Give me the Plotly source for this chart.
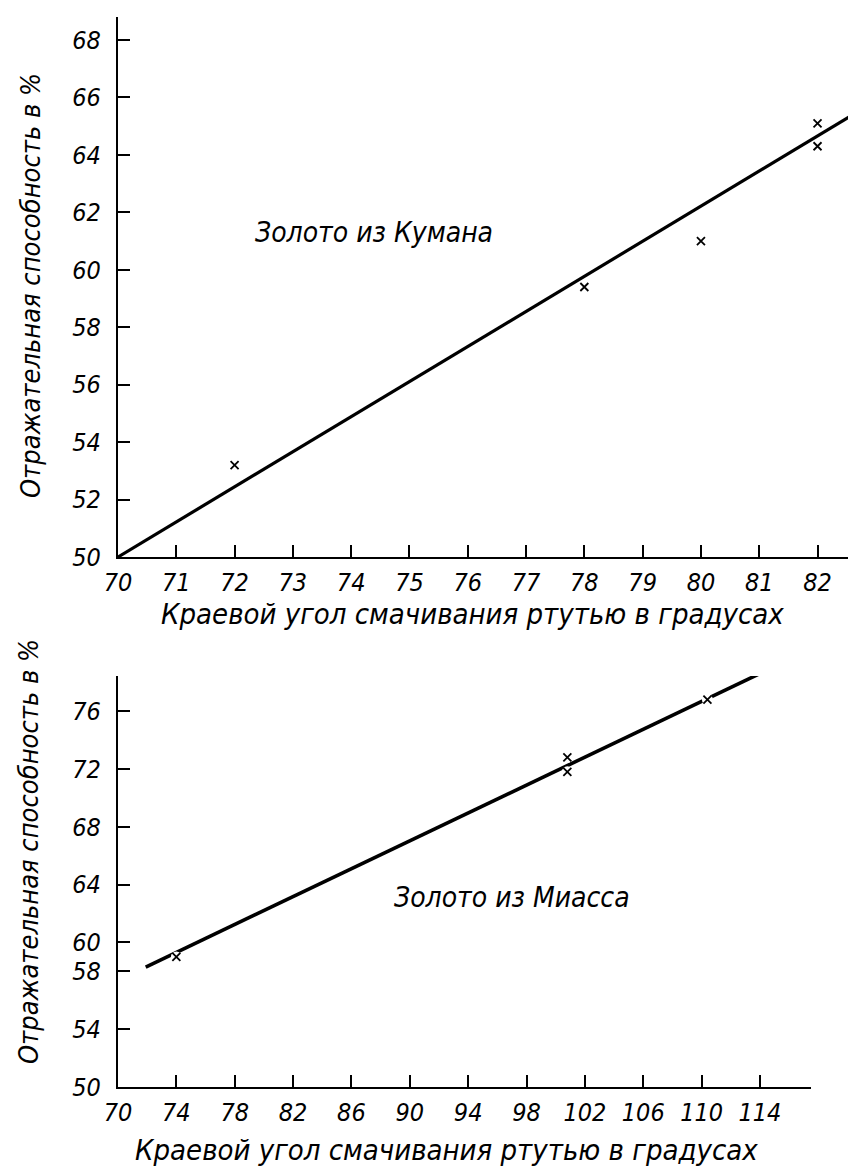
import plotly.graph_objects as go

# ---------------- data ----------------
# Top chart: gold from Kuman
kuman_x = [72, 78, 80, 82, 82]
kuman_y = [53.2, 59.4, 61.0, 65.1, 64.3]
kuman_fit_x = [70, 82.65]
kuman_fit_y = [50, 65.45]
kuman_xticks = [70, 71, 72, 73, 74, 75, 76, 77, 78, 79, 80, 81, 82]
kuman_yticks = [50, 52, 54, 56, 58, 60, 62, 64, 66, 68]

# Bottom chart: gold from Miass
miass_x = [74, 100.8, 100.8, 110.4]
miass_y = [59.0, 72.8, 71.8, 76.8]
miass_fit_x = [71.9, 114.0]
miass_fit_y = [58.3, 78.6]
miass_xticks = [70, 74, 78, 82, 86, 90, 94, 98, 102, 106, 110, 114]
miass_yticks = [50, 54, 58, 60, 64, 68, 72, 76]

label_top = "Золото из Кумана"
label_bottom = "Золото из Миасса"
x_title = "Краевой угол смачивания ртутью в градусах"
y_title = "Отражательная способность в %"

FONT = "DejaVu Sans Condensed, Liberation Sans Narrow, sans-serif"
# page body has an 8px margin: the figure is sized/positioned to compensate
OFF = 8
W, H = 856 - OFF, 1172 - OFF


def px_x(p):
    return (p - OFF) / W


def px_y(p):
    return 1 - (p - OFF) / H


fig = go.Figure()

# top
fig.add_trace(go.Scatter(x=kuman_fit_x, y=kuman_fit_y, mode="lines",
                         line=dict(color="black", width=3.2),
                         xaxis="x", yaxis="y", showlegend=False))
fig.add_trace(go.Scatter(x=kuman_x, y=kuman_y, mode="markers",
                         marker=dict(symbol="x-thin", size=8, color="black",
                                     line=dict(color="black", width=1.8)),
                         xaxis="x", yaxis="y", showlegend=False))
# bottom
fig.add_trace(go.Scatter(x=miass_fit_x, y=miass_fit_y, mode="lines",
                         line=dict(color="black", width=3.6),
                         xaxis="x2", yaxis="y2", showlegend=False))
fig.add_trace(go.Scatter(x=miass_x, y=miass_y, mode="markers",
                         marker=dict(symbol="circle", size=11, color="white",
                                     line=dict(width=0)),
                         xaxis="x2", yaxis="y2", showlegend=False, hoverinfo="skip"))
fig.add_trace(go.Scatter(x=miass_x, y=miass_y, mode="markers",
                         marker=dict(symbol="x-thin", size=8, color="black",
                                     line=dict(color="black", width=1.8)),
                         xaxis="x2", yaxis="y2", showlegend=False))

tickfont = dict(family=FONT, size=25, color="black", style="italic")
titlefont = dict(family=FONT, size=29, color="black", style="italic")
ytitlefont = dict(family=FONT, size=27, color="black", style="italic")
labelfont = dict(family=FONT, size=28, color="black", style="italic")

common_axis = dict(showline=True, linecolor="black", linewidth=2.2,
                   ticks="inside", ticklen=12, tickwidth=1.6, tickcolor="black",
                   showgrid=False, zeroline=False, tickfont=tickfont,
                   automargin=False)

fig.update_layout(
    width=W, height=H,
    margin=dict(l=0, r=0, t=0, b=0),
    paper_bgcolor="white", plot_bgcolor="white",
    xaxis=dict(domain=[px_x(118), 1.0], range=[70, 82.66], anchor="y",
               tickvals=kuman_xticks, ticklabelstandoff=2, **common_axis),
    yaxis=dict(domain=[px_y(557), px_y(17)], range=[50, 68.8], anchor="x",
               tickvals=kuman_yticks, ticklabelstandoff=10, **common_axis),
    xaxis2=dict(domain=[px_x(118), px_x(811)], range=[70, 117.5], anchor="y2",
                tickvals=miass_xticks, ticklabelstandoff=2, **common_axis),
    yaxis2=dict(domain=[px_y(1087), px_y(676)], range=[50, 78.43], anchor="x2",
                tickvals=miass_yticks, ticklabelstandoff=10, **common_axis),
    annotations=[
        dict(text=label_top, x=74.4, y=61.3, xref="x", yref="y",
             showarrow=False, font=labelfont),
        dict(text=label_bottom, x=97, y=63.1, xref="x2", yref="y2",
             showarrow=False, font=labelfont),
        # axis titles
        dict(text=x_title, x=px_x(472), y=px_y(614), xref="paper", yref="paper",
             xanchor="center", yanchor="middle", showarrow=False, font=titlefont),
        dict(text=x_title, x=px_x(446), y=px_y(1150), xref="paper", yref="paper",
             xanchor="center", yanchor="middle", showarrow=False, font=titlefont),
        dict(text=y_title, x=px_x(30), y=px_y(286), xref="paper", yref="paper",
             xanchor="center", yanchor="middle", textangle=-90,
             showarrow=False, font=ytitlefont),
        dict(text=y_title, x=px_x(28), y=px_y(852), xref="paper", yref="paper",
             xanchor="center", yanchor="middle", textangle=-90,
             showarrow=False, font=ytitlefont),
    ],
)

fig.write_html("out.html")
